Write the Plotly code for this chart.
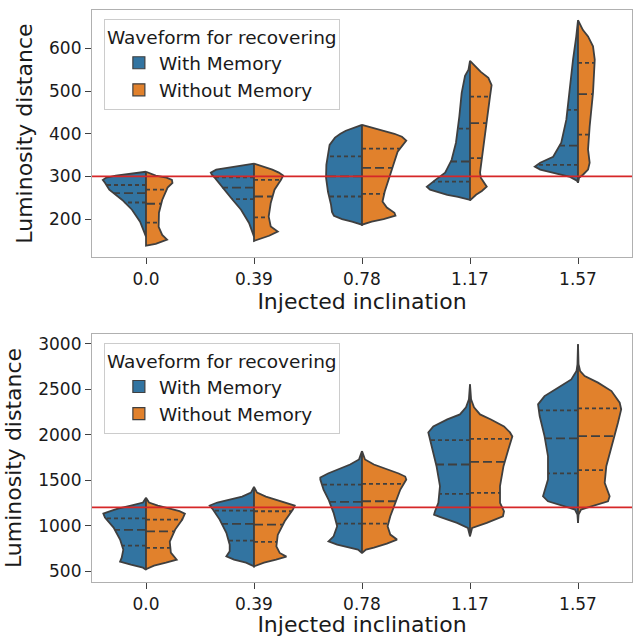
import numpy as np
import plotly.graph_objects as go

CATEGORIES = ["0.0", "0.39", "0.78", "1.17", "1.57"]
HUES = ["With Memory", "Without Memory"]

# violin half profiles: y levels (top -> bottom) and half-widths (category units)
TOP_WITH_Y = [
    [311, 306, 302, 297, 292, 285, 269, 245, 222, 194, 168, 159],
    [330, 325, 320, 316, 309, 304, 296, 273, 249, 222, 191, 159],
    [421, 414, 407, 400, 391, 374, 351, 327, 297, 264, 234, 217, 208, 200, 194, 187],
    [571, 550, 536, 496, 440, 379, 339, 309, 292, 283, 276, 269, 262, 257, 252, 248, 245],
    [666, 628, 574, 496, 433, 379, 346, 332, 323, 316, 309, 299, 290, 286],
]
TOP_WITH_W = [
    [0, 0.14, 0.28, 0.37, 0.40, 0.38, 0.34, 0.22, 0.13, 0.055, 0.014, 0],
    [0, 0.14, 0.26, 0.35, 0.40, 0.39, 0.36, 0.29, 0.21, 0.12, 0.046, 0],
    [0, 0.074, 0.15, 0.20, 0.25, 0.30, 0.315, 0.33, 0.333, 0.315, 0.287, 0.278, 0.26, 0.185, 0.093, 0],
    [0, 0.014, 0.046, 0.077, 0.099, 0.13, 0.17, 0.23, 0.32, 0.37, 0.40, 0.37, 0.28, 0.21, 0.11, 0.03, 0],
    [0, 0.016, 0.046, 0.077, 0.108, 0.155, 0.23, 0.35, 0.40, 0.35, 0.23, 0.074, 0.01, 0],
]
TOP_WITHOUT_Y = [
    [311, 302, 297, 292, 285, 274, 245, 215, 182, 163, 152, 142, 138],
    [330, 323, 316, 309, 302, 292, 269, 238, 206, 183, 171, 161, 149],
    [421, 414, 407, 400, 393, 384, 372, 358, 327, 297, 264, 241, 227, 215, 208, 200, 194, 187],
    [571, 559, 545, 531, 514, 487, 426, 363, 309, 297, 288, 276, 266, 257, 244],
    [666, 643, 628, 605, 574, 496, 417, 363, 332, 316, 304, 297, 285],
]
TOP_WITHOUT_W = [
    [0, 0.09, 0.19, 0.24, 0.245, 0.20, 0.15, 0.12, 0.117, 0.15, 0.195, 0.09, 0],
    [0, 0.09, 0.17, 0.23, 0.27, 0.25, 0.19, 0.155, 0.136, 0.155, 0.22, 0.14, 0],
    [0, 0.11, 0.20, 0.30, 0.37, 0.41, 0.37, 0.33, 0.29, 0.25, 0.21, 0.19, 0.23, 0.30, 0.31, 0.20, 0.09, 0],
    [0, 0.046, 0.10, 0.17, 0.20, 0.185, 0.155, 0.123, 0.093, 0.10, 0.123, 0.155, 0.11, 0.056, 0],
    [0, 0.046, 0.093, 0.139, 0.155, 0.139, 0.108, 0.093, 0.108, 0.093, 0.046, 0.01, 0],
]
TOP_WITH_Q = [[239, 261, 280], [247, 274, 298], [253, 300, 347], [288, 335, 412], [327, 372, 456]]
TOP_WITHOUT_Q = [[192, 236, 269], [204, 253, 292], [259, 320, 365], [343, 425, 487], [398, 493, 566]]

BOT_WITH_Y = [
    [1306, 1254, 1221, 1188, 1160, 1132, 1088, 978, 846, 735, 647, 603, 570, 537, 515],
    [1427, 1364, 1320, 1287, 1254, 1221, 1177, 1066, 920, 790, 717, 661, 625, 592, 551],
    [1820, 1728, 1673, 1618, 1574, 1529, 1507, 1397, 1287, 1140, 992, 882, 827, 790, 757, 735, 699],
    [2555, 2390, 2302, 2224, 2169, 2092, 2026, 1875, 1654, 1434, 1250, 1158, 1121, 1096, 1066, 1030, 975, 882],
    [2997, 2776, 2702, 2610, 2519, 2426, 2335, 2206, 1985, 1764, 1507, 1378, 1323, 1268, 1213, 1177, 1121, 1030],
]
BOT_WITH_W = [
    [0, 0.028, 0.14, 0.26, 0.33, 0.395, 0.38, 0.30, 0.24, 0.21, 0.225, 0.24, 0.14, 0.028, 0],
    [0, 0.028, 0.11, 0.23, 0.34, 0.41, 0.38, 0.318, 0.256, 0.225, 0.225, 0.256, 0.185, 0.074, 0],
    [0, 0.028, 0.11, 0.23, 0.315, 0.386, 0.386, 0.356, 0.31, 0.263, 0.23, 0.263, 0.31, 0.23, 0.11, 0.037, 0],
    [0, 0.01, 0.037, 0.093, 0.21, 0.34, 0.386, 0.355, 0.31, 0.278, 0.293, 0.324, 0.333, 0.28, 0.20, 0.12, 0.02, 0],
    [0, 0.005, 0.014, 0.062, 0.185, 0.31, 0.37, 0.355, 0.31, 0.278, 0.278, 0.31, 0.324, 0.278, 0.123, 0.028, 0.005, 0],
]
BOT_WITHOUT_Y = [
    [1306, 1254, 1221, 1188, 1160, 1132, 1066, 956, 824, 702, 625, 592, 559, 526, 515],
    [1427, 1364, 1320, 1287, 1254, 1221, 1177, 1047, 897, 772, 699, 658, 625, 592, 551],
    [1820, 1728, 1673, 1618, 1574, 1540, 1507, 1397, 1250, 1103, 992, 901, 846, 801, 757, 735, 699],
    [2555, 2390, 2302, 2224, 2169, 2092, 2026, 1982, 1838, 1654, 1434, 1250, 1158, 1103, 1030, 975, 882],
    [2997, 2776, 2702, 2647, 2574, 2481, 2353, 2280, 2133, 1875, 1654, 1471, 1323, 1268, 1232, 1177, 1121, 1030],
]
BOT_WITHOUT_W = [
    [0, 0.028, 0.11, 0.23, 0.31, 0.36, 0.336, 0.27, 0.22, 0.23, 0.284, 0.185, 0.074, 0.01, 0],
    [0, 0.028, 0.11, 0.20, 0.30, 0.377, 0.36, 0.284, 0.22, 0.207, 0.238, 0.30, 0.204, 0.093, 0],
    [0, 0.028, 0.11, 0.25, 0.34, 0.40, 0.41, 0.355, 0.31, 0.262, 0.237, 0.262, 0.324, 0.23, 0.11, 0.037, 0],
    [0, 0.01, 0.037, 0.093, 0.194, 0.315, 0.37, 0.392, 0.355, 0.31, 0.278, 0.278, 0.315, 0.305, 0.155, 0.02, 0],
    [0, 0.005, 0.02, 0.062, 0.185, 0.31, 0.386, 0.40, 0.37, 0.31, 0.262, 0.247, 0.293, 0.278, 0.185, 0.028, 0.005, 0],
]
BOT_WITH_Q = [[779, 953, 1080], [834, 1019, 1165], [1022, 1261, 1452], [1350, 1673, 1941], [1574, 1960, 2268]]
BOT_WITHOUT_Q = [[754, 937, 1066], [820, 1011, 1158], [1022, 1268, 1460], [1361, 1702, 1956], [1610, 1985, 2290]]

TRUE_VALUES = [300, 1200]  # injected distance, red reference line

BLUE = "#3274a1"
ORANGE = "#e1812c"
EDGE = "#3f3f3f"
FONT = "DejaVu Sans"

fig = go.Figure()

panels = [
    ("x", "y", "legend", (TOP_WITH_Y, TOP_WITH_W, TOP_WITH_Q), (TOP_WITHOUT_Y, TOP_WITHOUT_W, TOP_WITHOUT_Q)),
    ("x2", "y2", "legend2", (BOT_WITH_Y, BOT_WITH_W, BOT_WITH_Q), (BOT_WITHOUT_Y, BOT_WITHOUT_W, BOT_WITHOUT_Q)),
]

for xa, ya, leg, with_data, without_data in panels:
    halves = [(with_data, -1, BLUE, HUES[0]), (without_data, 1, ORANGE, HUES[1])]
    # legend swatches (empty bars give a boxed patch like matplotlib)
    for _, _, color, name in halves:
        fig.add_trace(go.Bar(
            x=[None], y=[None], name=name, legend=leg, xaxis=xa, yaxis=ya,
            marker=dict(color=color, line=dict(color=EDGE, width=1.2)),
        ))
    # filled half violins
    for (ys, ws, _), sign, color, name in halves:
        for i in range(len(CATEGORIES)):
            y = np.array(ys[i], dtype=float)
            x = i + sign * np.array(ws[i], dtype=float)
            fig.add_trace(go.Scatter(
                x=list(x) + [i], y=list(y) + [y[0]],
                mode="lines", fill="toself", fillcolor=color,
                line=dict(color=EDGE, width=1.8),
                showlegend=False, hoverinfo="skip", xaxis=xa, yaxis=ya,
            ))
    # quartile lines: dotted quartiles, longer dashes for median
    for (ys, ws, qs), sign, color, name in halves:
        qx, qy, mx, my = [], [], [], []
        for i in range(len(CATEGORIES)):
            yy = np.array(ys[i], dtype=float)[::-1]
            ww = np.array(ws[i], dtype=float)[::-1]
            for k, q in enumerate(qs[i]):
                w = np.interp(q, yy, ww)
                xs = [i, i + sign * w, None]
                if k == 1:
                    mx += xs
                    my += [q, q, None]
                else:
                    qx += xs
                    qy += [q, q, None]
        fig.add_trace(go.Scatter(
            x=qx, y=qy, mode="lines", line=dict(color=EDGE, width=1.8, dash="4px,3px"),
            showlegend=False, hoverinfo="skip", xaxis=xa, yaxis=ya,
        ))
        fig.add_trace(go.Scatter(
            x=mx, y=my, mode="lines", line=dict(color=EDGE, width=1.8, dash="9px,4px"),
            showlegend=False, hoverinfo="skip", xaxis=xa, yaxis=ya,
        ))

for ya, val in zip(["y", "y2"], TRUE_VALUES):
    fig.add_shape(type="line", xref="x domain" if ya == "y" else "x2 domain", yref=ya,
                  x0=0, x1=1, y0=val, y1=val, line=dict(color="#d62728", width=1.8), layer="above")

axis_common = dict(
    showline=True, linecolor="#b0b0b0", linewidth=1.2, mirror=True,
    ticks="outside", ticklen=6, tickcolor="#404040", tickwidth=1.2,
    showgrid=False, zeroline=False, automargin=False,
    tickfont=dict(family=FONT, size=17, color="#1a1a1a"),
)
xaxis_common = dict(
    axis_common, range=[-0.5, 4.5], tickmode="array",
    tickvals=list(range(len(CATEGORIES))), ticktext=CATEGORIES,
)
title_font = dict(family=FONT, size=22, color="#1a1a1a")
legend_common = dict(
    bgcolor="rgba(255,255,255,0.85)", bordercolor="#cccccc", borderwidth=1,
    font=dict(family=FONT, size=18.5, color="#1a1a1a"),
    title=dict(text="Waveform for recovering", font=dict(family=FONT, size=18.5, color="#1a1a1a")),
    xanchor="left", yanchor="top", traceorder="normal", indentation=14,
    tracegroupgap=0,
)

fig.update_layout(
    width=635, height=637,
    margin=dict(l=92, r=3, t=10, b=55),
    plot_bgcolor="white", paper_bgcolor="white",
    xaxis=dict(xaxis_common, domain=[0, 1], anchor="y",
               title=dict(text="Injected inclination", font=title_font, standoff=4)),
    yaxis=dict(axis_common, domain=[0.568, 1.0], anchor="x", range=[111, 690],
               tickvals=[200, 300, 400, 500, 600],
               title=dict(text="Luminosity distance", font=title_font, standoff=10)),
    xaxis2=dict(xaxis_common, domain=[0, 1], anchor="y2",
                title=dict(text="Injected inclination", font=title_font, standoff=2)),
    yaxis2=dict(axis_common, domain=[0.0, 0.4336], anchor="x2", range=[379, 3110],
                tickvals=[500, 1000, 1500, 2000, 2500, 3000],
                title=dict(text="Luminosity distance", font=title_font, standoff=10)),
    legend=dict(legend_common, x=0.022, y=0.984),
    legend2=dict(legend_common, x=0.022, y=0.418),
    barmode="overlay",
)

# page body has a default 8px margin; drop it so the figure sits at the window corner
fig.write_html(
    "out.html",
    config={"displayModeBar": False},
    post_script="document.body.style.margin='0';document.body.style.overflow='hidden';",
)
